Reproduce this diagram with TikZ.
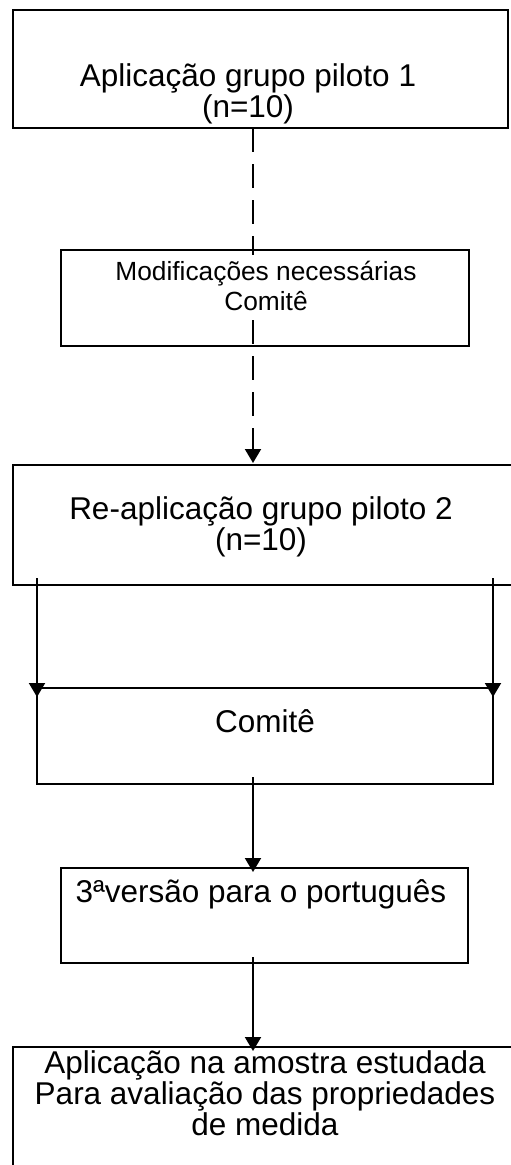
\documentclass[tikz,border=0pt]{standalone}
\usepackage{fontspec}
\setmainfont{Liberation Sans}
\usetikzlibrary{arrows.meta}

\begin{document}
\begin{tikzpicture}[x=1pt,y=-1pt,
  caixa/.style={draw,line width=2pt,inner sep=0pt,outer sep=0pt},
  texto/.style={align=center,inner sep=0pt,font=\fontsize{31.5}{31}\selectfont},
  textop/.style={align=center,inner sep=0pt,font=\fontsize{26.3}{30}\selectfont},
  seta/.style={line width=2pt,-{Triangle[length=14pt,width=16pt]}},
  tracejado/.style={line width=2pt,dash pattern=on 24pt off 12pt}]

\clip (0,0) rectangle (511,1165);

% caixas
\node[caixa,minimum width=495pt,minimum height=118pt] (piloto1) at (260.5,69) {};
\node[caixa,minimum width=408pt,minimum height=96pt] (modif) at (265,298) {};
\node[caixa,minimum width=502pt,minimum height=120pt] (piloto2) at (264,525) {};
\node[caixa,minimum width=456pt,minimum height=96pt] (comite) at (265,736) {};
\node[caixa,minimum width=407pt,minimum height=95pt] (versao) at (264.5,915.5) {};
\node[caixa,minimum width=502pt,minimum height=128pt] (amostra) at (264,1111) {};

% textos (base = ultima linha)
\node[texto,anchor=base] (t1) at (248,117) {Aplicação grupo piloto 1\\(n=10)};
\node[textop,anchor=base] (t2) at (266,310) {Modificações necessárias\\Comitê};
\node[texto,anchor=base] (t3) at (261,550) {Re-aplicação grupo piloto 2\\(n=10)};
\node[texto,anchor=base] (t4) at (265,732) {Comitê};
\node[texto,anchor=base] (t5) at (261,902) {3ªversão para o português};
\node[texto,anchor=base] (t6) at (265,1135) {Aplicação na amostra estudada\\Para avaliação das propriedades\\de medida};

% setas
\coordinate (eixo) at (253,0);
\draw[tracejado,shorten >=-5pt] (piloto1.south -| eixo) -- (modif.north -| eixo);
\draw[tracejado,seta,shorten <=10pt,shorten >=2pt] (t2.south -| eixo) -- (piloto2.north -| eixo);

\draw[seta,shorten <=-7pt,shorten >=-9pt] (piloto2.south -| comite.west) -- (comite.north west);
\draw[seta,shorten <=-7pt,shorten >=-9pt] (piloto2.south -| comite.east) -- (comite.north east);

\draw[seta,shorten <=-7pt,shorten >=-4pt] (comite.south -| eixo) -- (versao.north -| eixo);
\draw[seta,shorten <=-6pt,shorten >=-4pt] (versao.south -| eixo) -- (amostra.north -| eixo);
\end{tikzpicture}
\end{document}
